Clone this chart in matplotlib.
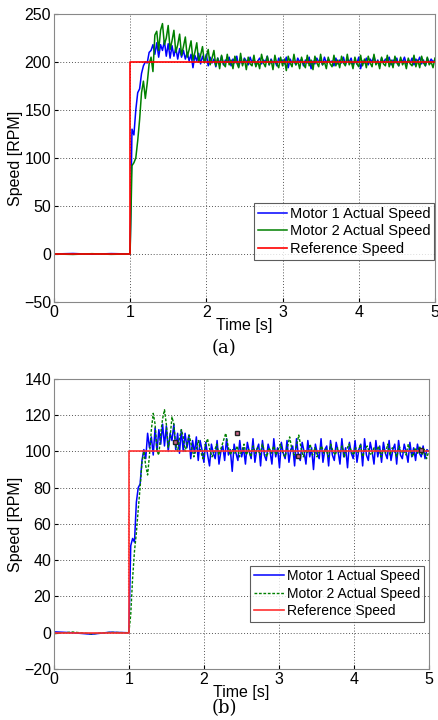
import numpy as np
import matplotlib
matplotlib.use("Agg")
import matplotlib.pyplot as plt

plt.rcParams['font.family'] = ['Liberation Sans', 'DejaVu Sans']

##################################
# Data (speed in RPM); samples every 0.025 s after the step at t = 1 s
dt = 0.025
t_pre = [0.0, 0.25, 0.5, 0.75, 0.99]

# (a) 200 RPM reference
a_m1_pre = [0, 0.5, -0.3, 0.4, 0]
a_m1_tr = [0, 130, 124, 150, 168, 172, 188, 196, 200, 199, 210, 212, 218, 208, 220, 205,
           218, 212, 222, 206, 219, 204, 217, 206, 215, 203, 214, 205, 212, 203, 210, 201,
           208, 194, 207, 201, 209, 198, 206, 200, 208]
a_m1_st = [196, 205, 199, 203, 195, 204, 198, 206, 197, 202, 200, 205, 196, 203, 199, 206,
           195, 202, 198, 204, 201, 197, 205, 199, 203, 196, 201, 204, 198, 202, 200, 206,
           197, 203, 199, 201, 196, 204, 200, 202, 198, 205, 194, 203, 199, 201, 197, 204,
           200, 203, 196, 202, 199, 205, 193, 201, 198, 204, 200, 202, 197, 205, 199, 203,
           200, 201, 196, 204, 198, 202, 199, 205, 197, 203, 200, 204, 196, 202, 198, 205,
           193, 201, 199, 204, 197, 203, 200, 206, 198, 202, 196, 204, 199, 203, 201, 205,
           197, 202, 199, 204, 196, 203, 200, 205, 198, 202, 199, 204, 197, 203, 200, 205,
           198, 202, 196, 204, 199, 203, 200, 202]
a_m2_pre = [0, -0.5, 0.3, -0.4, 0]
a_m2_tr = [0, 92, 95, 100, 118, 140, 168, 180, 162, 178, 198, 205, 190, 228, 232, 212,
           233, 240, 218, 225, 238, 213, 222, 233, 210, 218, 229, 207, 216, 226, 205, 213,
           222, 202, 210, 220, 200, 207, 216, 199, 205, 213, 197, 204, 212, 196]
a_m2_st = [204, 193, 207, 198, 195, 208, 197, 202, 193, 206, 199, 194, 209, 196, 203, 192,
           205, 198, 196, 207, 195, 201, 193, 208, 199, 195, 206, 197, 202, 192, 207, 198,
           194, 205, 196, 203, 191, 206, 199, 195, 208, 197, 201, 193, 205, 198, 194, 207,
           196, 202, 192, 206, 199, 195, 208, 197, 200, 193, 205, 198, 195, 207, 196, 202,
           194, 206, 199, 196, 208, 197, 201, 193, 205, 198, 195, 207, 196, 203, 194, 206,
           199, 195, 208, 197, 201, 193, 205, 198, 196, 207, 195, 202, 194, 206, 199, 196,
           205, 197, 201, 193, 204, 198, 196, 207, 195, 202, 194, 206, 199, 196, 205, 197,
           200, 194, 204]
a_ref_t = [0, 1.0, 1.0, 5.0]
a_ref = [0, 0, 200, 200]

# (b) 100 RPM reference
b_m1_pre = [0.5, 0, -0.8, 0.3, 0]
b_m1_tr = [0, 48, 52, 50, 72, 80, 82, 95, 101, 96, 110, 102, 108, 98, 113, 100, 112, 104,
           115, 103, 114, 100, 110, 106, 115, 101, 110, 99, 112, 100, 110, 102, 109, 96, 106,
           99, 108, 95, 106]
b_m1_st = [101, 94, 105, 98, 92, 104, 99, 96, 106, 93, 100, 103, 95, 107, 98, 101, 89, 104,
           99, 95, 106, 97, 102, 93, 105, 100, 96, 107, 94, 101, 104, 92, 106, 98, 95, 104,
           100, 93, 107, 97, 102, 91, 105, 99, 96, 106, 94, 101, 103, 92, 107, 98, 95, 105,
           100, 93, 106, 97, 102, 90, 104, 99, 96, 107, 94, 101, 103, 92, 106, 98, 95, 105,
           100, 93, 107, 97, 102, 91, 105, 99, 96, 106, 94, 101, 104, 92, 107, 98, 95, 105,
           100, 93, 106, 97, 103, 94, 105, 99, 96, 106, 95, 101, 104, 93, 106, 98, 96, 104,
           100, 94, 105, 97, 102, 95, 104, 99, 97, 103, 96, 101, 100]
b_m2_pre = [-0.5, 0.4, -0.6, 0.2, 0]
b_m2_tr = [0, 10, 30, 45, 55, 68, 80, 94, 100, 92, 87, 98, 112, 121, 115, 100, 98, 110, 118,
           123, 115, 102, 108, 119, 115, 103, 100, 107, 112, 108, 100]
b_m2_st = [104, 109, 103, 97, 101, 106, 100, 96, 103, 107, 101, 97, 100, 104, 98, 102, 106,
           110, 103, 98, 101, 99, 103, 97, 100, 104, 98, 101, 97, 103, 99, 102, 98, 104, 100,
           97, 102, 99, 103, 98, 101, 104, 99, 97, 102, 108, 101, 98, 103, 109, 102, 97, 101,
           99, 104, 98, 102, 97, 100, 103, 99, 101, 97, 104, 100, 98, 102, 99, 103, 97, 101,
           104, 100, 98, 102, 99, 104, 97, 101, 103, 99, 98, 102, 100, 103, 97, 101, 99, 104,
           98, 102, 100, 97, 103, 99, 101, 98, 104, 100, 97, 102, 99, 103, 98, 101, 96, 100]
b_ref_t = [0, 1.0, 1.0, 5.0]
b_ref = [0, 0, 100, 100]
b_spike_t = [0.985, 0.985]
b_spike = [20, 66]
b_marks_t = [1.62, 2.44, 3.25, 4.9]
b_marks = [105, 110, 97.5, 101]


def series(pre, tr, st):
    t_tr = 1.0 + dt*np.arange(len(tr))
    t_st = np.linspace(t_tr[-1] + dt, 5.0, len(st))
    return np.concatenate([t_pre, t_tr, t_st]), np.concatenate([pre, tr, st])


def style(ax, ylim, yticks):
    ax.set_xlim(0, 5)
    ax.set_ylim(*ylim)
    ax.set_xticks([0, 1, 2, 3, 4, 5])
    ax.set_yticks(yticks)
    ax.grid(True, linestyle=(0, (1, 2)), color='#555555', linewidth=0.7)
    ax.tick_params(direction='in', labelsize=11.5, length=3, pad=2)
    for s in ax.spines.values():
        s.set_color('#888888')
    ax.set_xlabel('Time [s]', fontsize=11.5, labelpad=-1)
    ax.set_ylabel('Speed [RPM]', fontsize=11.5, labelpad=1)


fig = plt.figure(figsize=(4.38, 7.2), dpi=100)

##################################
# (a)
ax1 = fig.add_axes([0.123, 0.5806, 0.870, 0.400])
t, v = series(a_m1_pre, a_m1_tr, a_m1_st)
ax1.plot(t, v, color='#0000ff', linewidth=1.1, label='Motor 1 Actual Speed')
t, v = series(a_m2_pre, a_m2_tr, a_m2_st)
ax1.plot(t, v, color='#008000', linewidth=1.1, label='Motor 2 Actual Speed')
ax1.plot(a_ref_t, a_ref, color='#ff0000', linewidth=1.2, label='Reference Speed')
style(ax1, (-50, 250), np.arange(-50, 251, 50))
leg = ax1.legend(loc='lower right', bbox_to_anchor=(0.9985, 0.147), fontsize=10.5, frameon=True,
                 fancybox=False, edgecolor='#333333', borderpad=0.25, labelspacing=0.25,
                 handlelength=2.0, handletextpad=0.2, borderaxespad=0)
leg.get_frame().set_linewidth(0.8)
fig.text(0.512, 0.517, '(a)', fontsize=13, family='DejaVu Serif', ha='center', va='center')

##################################
# (b)
ax2 = fig.add_axes([0.123, 0.0708, 0.856, 0.403])
t, v = series(b_m1_pre, b_m1_tr, b_m1_st)
ax2.plot(t, v, color='#0000ff', linewidth=1.1, label='Motor 1 Actual Speed')
t, v = series(b_m2_pre, b_m2_tr, b_m2_st)
ax2.plot(t, v, color='#008000', linewidth=1.0, linestyle=(0, (2, 1.2)), label='Motor 2 Actual Speed')
ax2.plot(b_ref_t, b_ref, color='#ff3030', linewidth=1.2, label='Reference Speed')
ax2.plot(b_spike_t, b_spike, color='#ff3030', linewidth=0.8, linestyle=':')
ax2.plot(b_marks_t, b_marks, 's', color='#222222', markersize=3, markerfacecolor='#cc6688')
style(ax2, (-20, 140), np.arange(-20, 141, 20))
leg = ax2.legend(loc='lower right', bbox_to_anchor=(0.987, 0.163), fontsize=10, frameon=True,
                 fancybox=False, edgecolor='#333333', borderpad=0.25, labelspacing=0.25,
                 handlelength=2.2, handletextpad=0.2, borderaxespad=0)
leg.get_frame().set_linewidth(0.8)
fig.text(0.512, 0.017, '(b)', fontsize=13, family='DejaVu Serif', ha='center', va='center')

fig.savefig('out.png', dpi=100)
